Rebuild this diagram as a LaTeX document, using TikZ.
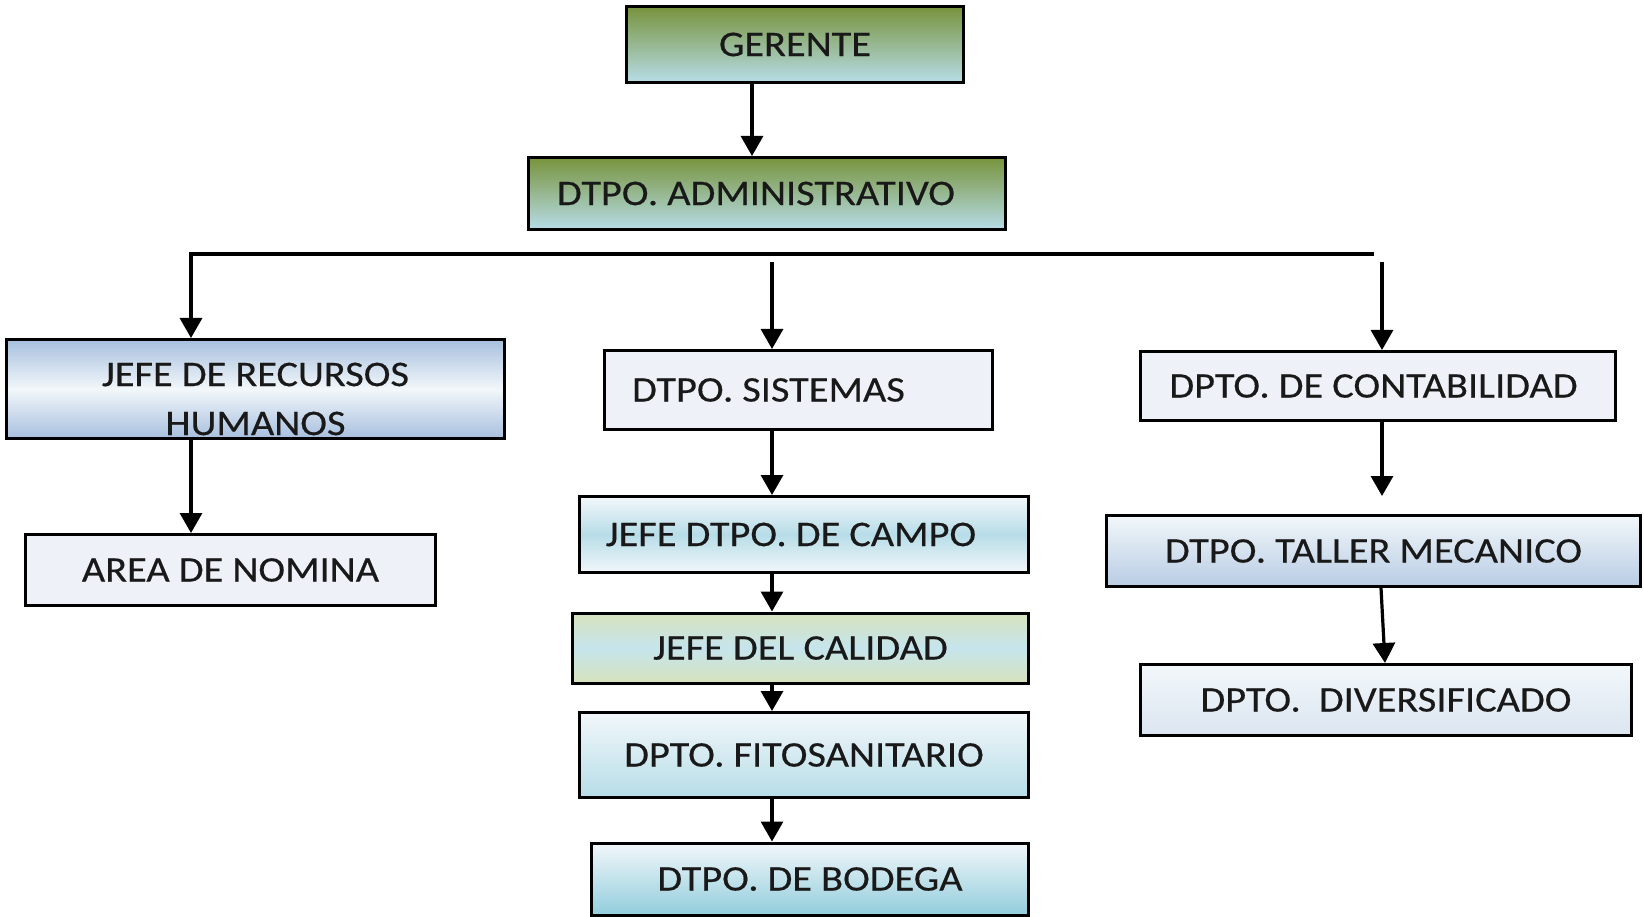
\documentclass[tikz,border=0pt]{standalone}
\usepackage{fontspec}
\setmainfont{Carlito}[FakeStretch=1.12,FakeBold=0.4]
\usetikzlibrary{arrows.meta,calc}
\definecolor{cOlive}{RGB}{119,147,60}
\definecolor{cLBlue}{RGB}{183,221,232}
\definecolor{cMBlue}{RGB}{146,205,220}
\definecolor{cGBlue}{RGB}{167,191,222}
\definecolor{cPale}{RGB}{238,241,247}
\definecolor{cPaleW}{RGB}{242,247,250}
\definecolor{cLGreen}{RGB}{214,227,188}
\definecolor{cTal}{RGB}{184,204,228}
\definecolor{cDiv}{RGB}{219,229,241}
\definecolor{cText}{RGB}{25,25,25}
\begin{document}
\begin{tikzpicture}[x=1pt,y=-1pt,
  box/.style={draw=black, line width=3pt, rectangle, inner sep=0pt,
    font=\fontsize{36}{49}\selectfont, text=cText},
  flatbox/.style={box, fill=cPale},
  arr/.style={line width=3.2pt, -{Triangle[width=22pt,length=20pt]}},
  plainline/.style={line width=3.2pt}]
\useasboundingbox (0,0) rectangle (1644,917);

% boxes
\node[box, top color=cOlive, bottom color=cLBlue, minimum width=337pt, minimum height=76pt] (ger) at (795,44.5) {GERENTE};
\node[box, top color=cOlive, bottom color=cLBlue, minimum width=477pt, minimum height=72pt] (adm) at (767,193.5) {DTPO. ADMINISTRATIVO\hspace*{22pt}};
\node[box, top color=cGBlue, bottom color=cGBlue, middle color=cPaleW, minimum width=498pt, minimum height=99pt] (rrhh) at (255.5,389) {};
\node[font=\fontsize{36}{49}\selectfont, text=cText, align=center, inner sep=0pt] (rrhhT) at (255.5,399) {JEFE DE RECURSOS\\HUMANOS};
\node[flatbox, minimum width=410pt, minimum height=71pt] (nom) at (230.5,570) {AREA DE NOMINA};
\node[flatbox, minimum width=388pt, minimum height=79pt] (sis) at (798.5,390) {DTPO. SISTEMAS\hspace*{60pt}};
\node[box, top color=cPaleW, bottom color=cPaleW, middle color=cLBlue, minimum width=449pt, minimum height=76pt] (campo) at (804,534.5) {JEFE DTPO. DE CAMPO\hspace*{26pt}};
\node[box, top color=cLGreen, bottom color=cLGreen, middle color=cLBlue!80!white, minimum width=456pt, minimum height=70pt] (cal) at (800.5,648) {JEFE DEL CALIDAD};
\node[box, top color=cPaleW, bottom color=cLBlue, minimum width=449pt, minimum height=85pt] (fito) at (804,755) {DPTO. FITOSANITARIO};
\node[box, top color=cPaleW, bottom color=cMBlue, minimum width=437pt, minimum height=72pt] (bod) at (810,879) {DTPO. DE BODEGA};
\node[flatbox, minimum width=475pt, minimum height=69pt] (cont) at (1378,386) {DPTO. DE CONTABILIDAD\hspace*{9pt}};
\node[box, top color=cPaleW, bottom color=cTal, minimum width=534pt, minimum height=71pt] (tal) at (1373.5,551) {DTPO. TALLER MECANICO};
\node[box, top color=cPaleW, bottom color=cDiv, minimum width=491pt, minimum height=71pt] (div) at (1386,700) {DPTO.~~DIVERSIFICADO};

% helper coordinates
\coordinate (ga) at (752,0);
\coordinate (hl) at (191,254);
\coordinate (hr) at (1374,254);
\coordinate (mt) at (772,262);
\coordinate (rt) at (1382,262);
\coordinate (rend) at (1382,496);

% connectors
\draw[arr] (ger.south -| ga) -- (adm.north -| ga);
\draw[arr] (hr) -- (hl) -- (hl |- rrhh.north);
\draw[arr] (rrhh.south -| hl) -- (nom.north -| hl);
\draw[arr] (mt) -- (mt |- sis.north);
\draw[arr] (sis.south -| mt) -- (campo.north -| mt);
\draw[arr] (campo.south -| mt) -- (cal.north -| mt);
\draw[arr] (cal.south -| mt) -- (fito.north -| mt);
\draw[arr] (fito.south -| mt) -- (bod.north -| mt);
\draw[arr] (rt) -- (rt |- cont.north);
\draw[arr] (cont.south -| rt) -- (rend);
\draw[arr] ([xshift=7.5pt]tal.south) -- ([xshift=-1pt]div.north);
\end{tikzpicture}
\end{document}
